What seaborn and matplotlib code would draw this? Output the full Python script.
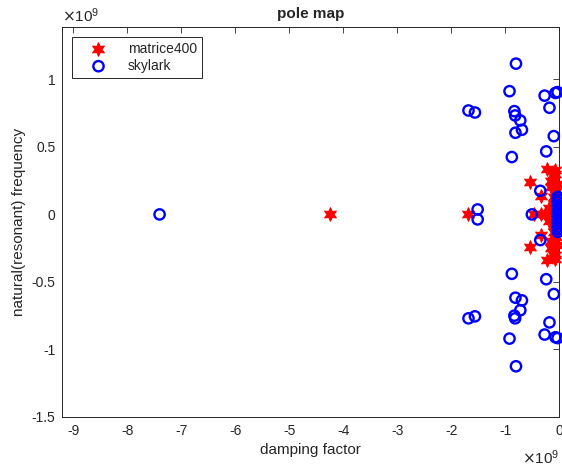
import numpy as np
import pandas as pd
import matplotlib
matplotlib.use('Agg')
import matplotlib.pyplot as plt
import seaborn as sns
from matplotlib.ticker import FuncFormatter

# values in units of 1e9
skylark_x = [-7.40, -1.51, -1.51,
             -1.68, -1.68, -1.56, -1.56, -0.80, -0.80, -0.92, -0.92,
             -0.27, -0.27, -0.07, -0.07, -0.03, -0.03, -0.18, -0.18,
             -0.83, -0.83, -0.815, -0.815, -0.72, -0.72, -0.69, -0.69,
             -0.81, -0.81, -0.10, -0.10, -0.24, -0.24, -0.877, -0.877,
             -0.35, -0.35, -0.506,
             -0.025, -0.025, -0.025, -0.025, -0.025, -0.025, -0.025,
             -0.025, -0.025, -0.025, -0.025, -0.025, -0.025, -0.025]
skylark_y = [0.0, 0.037, -0.037,
             0.77, -0.77, 0.755, -0.755, 1.117, -1.125, 0.913, -0.92,
             0.88, -0.89, 0.90, -0.91, 0.906, -0.916, 0.79, -0.80,
             0.765, -0.75, 0.733, -0.77, 0.696, -0.71, 0.627, -0.637,
             0.605, -0.617, 0.58, -0.59, 0.467, -0.48, 0.425, -0.44,
             0.175, -0.19, 0.0,
             0.13, 0.11, 0.09, 0.07, 0.05, 0.03, 0.01,
             -0.01, -0.03, -0.05, -0.07, -0.09, -0.11, -0.13]

matrice_x = [-4.24, -1.68, -0.54, -0.54, -0.46, -0.33, -0.33, -0.33,
             -0.22, -0.22, -0.07, -0.07, -0.15, -0.15, -0.04, -0.04,
             -0.16, -0.16, -0.10, -0.10, -0.10, -0.10, -0.18, -0.18,
             -0.20, -0.27, -0.06, -0.06, -0.12, -0.12, -0.08, -0.08]
matrice_y = [0.0, 0.0, 0.24, -0.245, 0.0, 0.14, -0.15, 0.0,
             0.335, -0.335, 0.326, -0.33, 0.25, -0.25, 0.227, -0.23,
             0.20, -0.20, 0.128, -0.13, 0.08, -0.08, 0.05, -0.05,
             0.0, 0.0, 0.17, -0.17, 0.29, -0.29, 0.30, -0.30]

sns.set_theme(style='white')
plt.rcParams['font.family'] = ['Liberation Sans', 'DejaVu Sans']
plt.rcParams['axes.unicode_minus'] = False

fig = plt.figure(figsize=(5.62, 4.70), dpi=100)
ax = fig.add_axes([0.111, 0.113, 0.884, 0.830])

hexagram = (6, 1, 0)
sns.scatterplot(x=matrice_x, y=matrice_y, ax=ax, marker=hexagram, s=95,
                color='red', edgecolor='red', linewidth=0.8,
                label='matrice400', clip_on=False, zorder=3)
sns.scatterplot(x=skylark_x, y=skylark_y, ax=ax, marker='o', s=55,
                color='blue', facecolor='none', edgecolor='blue',
                linewidth=1.7, label='skylark', clip_on=False, zorder=4)

ax.set_xlim(-9.2, 0)
ax.set_ylim(-1.5, 1.39)
ax.set_xticks(range(-9, 1))
ax.set_yticks([-1.5, -1, -0.5, 0, 0.5, 1])
fmt = FuncFormatter(lambda v, p: '%g' % v)
ax.xaxis.set_major_formatter(fmt)
ax.yaxis.set_major_formatter(fmt)
ax.tick_params(direction='in', top=True, right=True, length=4,
               width=0.6, labelsize=10, colors='#262626', pad=5)
for sp in ax.spines.values():
    sp.set_color('#262626')
    sp.set_linewidth(0.7)

ax.set_xlabel('damping factor', fontsize=11, color='#262626')
ax.set_ylabel('natural(resonant) frequency', fontsize=11, color='#262626')
ax.set_title('pole map', fontsize=11, fontweight='bold', pad=6)

ax.text(0.0, 1.005, r'$\times\mathdefault{10^{9}}$', transform=ax.transAxes,
        fontsize=11, ha='left', va='bottom', color='#262626')
ax.text(1.0, -0.082, r'$\times\mathdefault{10^{9}}$', transform=ax.transAxes,
        fontsize=11, ha='right', va='top', color='#262626')

leg = ax.legend(loc='upper left', fancybox=False, edgecolor='#262626',
                framealpha=1, fontsize=10, handletextpad=0.6,
                borderaxespad=0.7, labelspacing=0.2, handlelength=3.0)
leg.get_frame().set_linewidth(0.7)

fig.savefig('out.png', dpi=100)
